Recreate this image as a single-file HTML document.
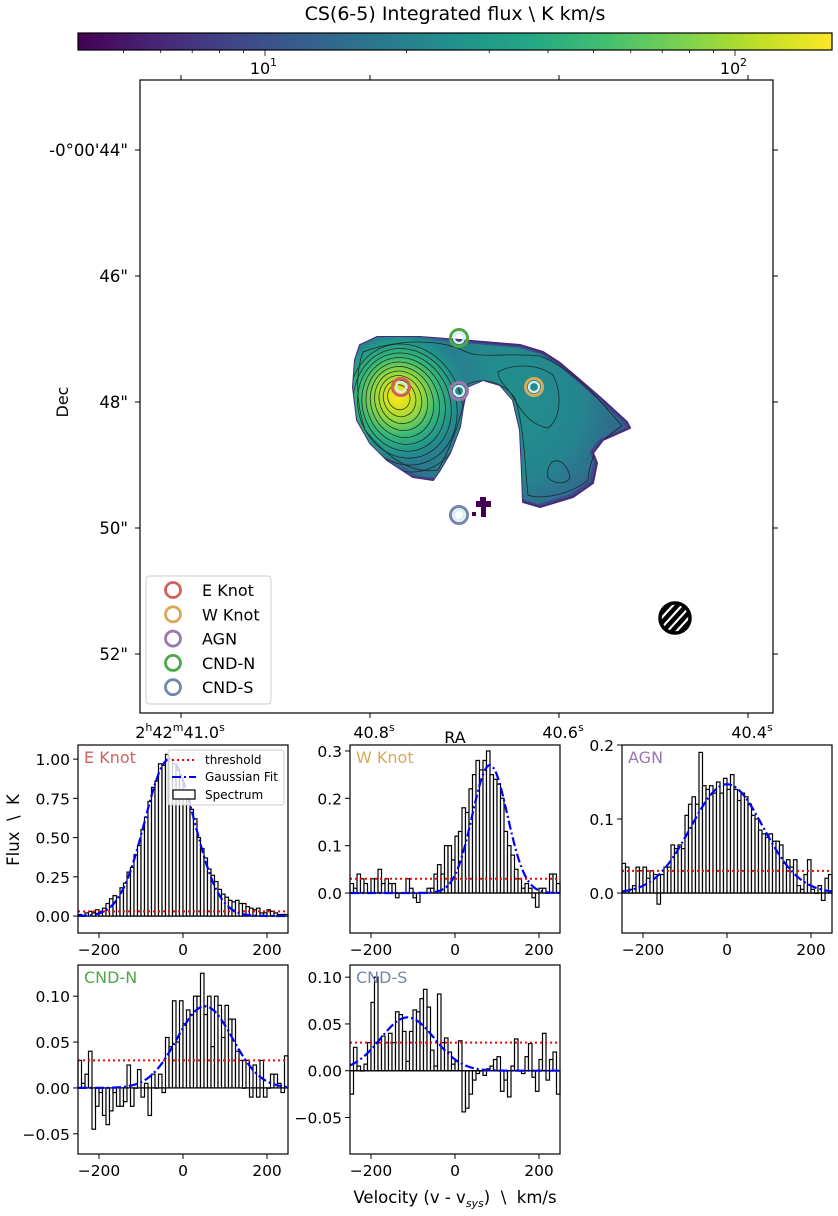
<!DOCTYPE html>
<html><head><meta charset="utf-8"><style>
html,body{margin:0;padding:0;background:#fff;}
svg{display:block;font-family:"DejaVu Sans","Liberation Sans",sans-serif;}
text{white-space:pre;}
</style></head><body>
<svg id="fig" width="838" height="1216" viewBox="0 0 838 1216" xmlns="http://www.w3.org/2000/svg">
<defs>
<linearGradient id="viridis" x1="0" x2="1" y1="0" y2="0">
<stop offset="0" stop-color="#440154"/><stop offset="0.1" stop-color="#482475"/><stop offset="0.2" stop-color="#414487"/><stop offset="0.3" stop-color="#355f8d"/><stop offset="0.4" stop-color="#2a788e"/><stop offset="0.5" stop-color="#21918c"/><stop offset="0.6" stop-color="#22a884"/><stop offset="0.7" stop-color="#44bf70"/><stop offset="0.8" stop-color="#7ad151"/><stop offset="0.9" stop-color="#bddf26"/><stop offset="1" stop-color="#fde725"/>
</linearGradient>
<radialGradient id="eknot" cx="398" cy="396" r="95" gradientUnits="userSpaceOnUse">
<stop offset="0" stop-color="#fde725"/><stop offset="0.12" stop-color="#d8e219"/><stop offset="0.26" stop-color="#8fd744"/><stop offset="0.42" stop-color="#35b779"/><stop offset="0.6" stop-color="#21918c"/><stop offset="0.75" stop-color="#2a788e" stop-opacity="0.6"/><stop offset="1" stop-color="#2a788e" stop-opacity="0"/>
</radialGradient>
<radialGradient id="warm" cx="500" cy="400" r="140" gradientUnits="userSpaceOnUse">
<stop offset="0" stop-color="#21918c"/><stop offset="0.6" stop-color="#25858e"/><stop offset="1" stop-color="#355f8d"/>
</radialGradient>
<clipPath id="blobclip"><path d="M360,345 L377,337 L420,337 L460,340 L520,345 L543,352 L560,363 L580,380 L603,400 L627,422 L630,428 L603,440 L593,453 L597,463 L593,483 L573,497 L540,507 L523,502 L522,473 L520,430 L513,400 L500,385 L483,380 L467,387 L463,407 L460,427 L450,453 L440,470 L433,480 L413,477 L387,460 L370,443 L357,420 L353,387 L355,360 Z"/></clipPath>
<clipPath id="beamclip"><circle cx="675" cy="618" r="15"/></clipPath>
</defs>
<g id="colorbar"></g>
<g id="map"></g>
<g id="spectra"></g>
</svg>
<script>
// ---------- data ----------
const cbMajorTicks = [10, 100];
const cbMajorLabels = ["10", "10"];
const cbMajorExp = ["1", "2"];
const cbMinorTicks = [5,6,7,8,9,20,30,40,50,60,70,80,90];
const raTickLabels = [["2","h","42","m","41.0","s"],["40.8","s"],["40.6","s"],["40.4","s"]];
const decTickLabels = ["-0°00'44\"","46\"","48\"","50\"","52\""];
const regionNames = ["E Knot","W Knot","AGN","CND-N","CND-S"];
const regionColors = ["#d1605e","#d9a85b","#9b77ac","#4ea84a","#7586ad"];
const velocityTicks = [-200, 0, 200];
const nBins = 60;
const velMin = -250, velMax = 250;
const specEKnot = [0.01,0.0,0.02,0.03,0.02,0.04,0.03,0.05,0.08,0.11,0.13,0.12,0.18,0.21,0.28,0.31,0.39,0.45,0.55,0.63,0.73,0.82,0.86,0.97,0.96,1.03,1.0,0.97,0.93,0.88,0.80,0.74,0.68,0.62,0.50,0.43,0.37,0.30,0.26,0.22,0.17,0.14,0.12,0.10,0.09,0.10,0.08,0.08,0.06,0.05,0.04,0.05,0.02,0.02,0.04,0.03,0.02,0.01,0.01,0.01];
const specWKnot = [0.02,0.01,0.04,0.03,0.02,0.0,0.03,0.03,0.05,0.02,0.03,0.02,0.02,-0.01,0.0,0.0,0.03,0.01,-0.01,-0.02,0.0,0.0,0.01,0.01,0.04,0.06,0.04,0.10,0.10,0.07,0.12,0.13,0.18,0.17,0.22,0.25,0.28,0.26,0.28,0.30,0.25,0.24,0.23,0.20,0.13,0.10,0.08,0.05,0.03,0.01,0.02,0.01,-0.01,-0.03,0.01,0.01,0.0,0.04,0.04,0.02];
const specAGN = [0.04,0.035,0.005,0.01,0.035,0.03,0.035,0.02,0.03,0.025,-0.015,0.025,0.035,0.035,0.065,0.06,0.065,0.06,0.105,0.12,0.13,0.12,0.19,0.145,0.14,0.145,0.135,0.15,0.135,0.155,0.14,0.16,0.14,0.125,0.135,0.13,0.12,0.105,0.1,0.085,0.08,0.075,0.08,0.07,0.07,0.065,0.04,0.045,0.035,0.045,0.01,0.005,0.025,0.045,0.005,0.0,0.01,-0.01,0.02,0.025];
const specCNDN = [0.03,0.005,0.015,0.04,-0.045,-0.02,-0.005,-0.03,-0.04,-0.025,-0.005,-0.02,-0.02,-0.015,0.025,-0.02,0.0,0.02,-0.01,0.005,-0.03,0.015,0.0,0.015,-0.005,0.055,0.045,0.095,0.05,0.095,0.07,0.085,0.08,0.1,0.1,0.125,0.08,0.1,0.045,0.1,0.09,0.055,0.09,0.075,0.075,0.04,0.03,0.0,0.03,-0.01,0.025,-0.01,0.03,-0.01,0.0,0.015,0.015,0.005,-0.005,0.035];
const specCNDS = [-0.025,0.025,0.005,0.0,0.007,0.03,0.073,0.1,0.03,0.037,0.03,0.04,0.03,0.063,0.06,0.042,0.01,0.042,0.065,0.063,0.077,0.087,0.068,0.022,0.005,0.082,0.03,0.035,0.02,0.007,0.01,0.032,-0.044,-0.04,-0.025,-0.01,-0.003,0.0,-0.005,0.002,0.005,0.012,0.015,-0.022,-0.01,-0.028,0.005,0.034,0.0,-0.003,0.015,0.029,-0.007,-0.022,0.012,0.04,-0.01,0.012,0.02,-0.025];
const fitAmp = [1.0, 0.27, 0.147, 0.089, 0.057];
const fitCenter = [-32, 83, 0, 52, -113];
const fitSigma = [59, 42, 86, 66, 64];
const threshold = [0.03, 0.03, 0.03, 0.03, 0.03];
const eknotYTicks = [0,0.25,0.5,0.75,1.0];
const wknotYTicks = [0,0.1,0.2,0.3];
const agnYTicks = [0,0.1,0.2];
const cndnYTicks = [-0.05,0,0.05,0.10];
const cndsYTicks = [-0.05,0,0.05,0.10];

const NS = "http://www.w3.org/2000/svg";
function mk(tag, attrs, parent){const e=document.createElementNS(NS,tag);for(const k in attrs)e.setAttribute(k,attrs[k]);if(parent)parent.appendChild(e);return e;}
const fmtMinus = s => s.replace('-', '\u2212');

// ---------- colorbar ----------
const cb = document.getElementById('colorbar');
const cbX0=78, cbX1=832, cbY0=33, cbY1=50;
const cbX10=265, cbDec=470;
const cbScale = v => cbX10 + cbDec*Math.log10(v/10);
let t = mk('text',{x:455,y:20,'font-size':19,'text-anchor':'middle'},cb);
t.textContent="CS(6-5) Integrated flux \\ K km/s";


let r = mk('rect',{x:cbX0,y:cbY0,width:cbX1-cbX0,height:cbY1-cbY0,fill:'url(#viridis)',stroke:'#000','stroke-width':1.2},cb);


cbMinorTicks.forEach(v=>{const x=cbScale(v);if(x>cbX0&&x<cbX1)mk('line',{x1:x,x2:x,y1:cbY1,y2:cbY1+3,stroke:'#000','stroke-width':0.8},cb);});
cbMajorTicks.forEach((v,i)=>{const x=cbScale(v);
 mk('line',{x1:x,x2:x,y1:cbY1,y2:cbY1+6,stroke:'#000','stroke-width':0.8},cb);
 const tt=mk('text',{x:x-5,y:74,'font-size':16,'text-anchor':'middle'},cb);
 tt.textContent=cbMajorLabels[i];
 
 
 const ex=mk('text',{x:x+5,y:66,'font-size':11,'text-anchor':'start'},cb);ex.textContent=cbMajorExp[i];
});

// ---------- map ----------
const mp = document.getElementById('map');
const mX0=140,mX1=773,mY0=80,mY1=713;
const raTicks=[181,370,559,748], decTicks=[150,276,402,528,654];
const outline="M360,345 L377,337 L420,337 L460,340 L520,345 L543,352 L560,363 L580,380 L603,400 L627,422 L630,428 L603,440 L593,453 L597,463 L593,483 L573,497 L540,507 L523,502 L522,473 L520,430 L513,400 L500,385 L483,380 L467,387 L463,407 L460,427 L450,453 L440,470 L433,480 L413,477 L387,460 L370,443 L357,420 L353,387 L355,360 Z";
let edge = mk('path',{d:outline,fill:'#3e4a89',stroke:'#472c7a','stroke-width':2,'stroke-linejoin':'round'},mp);


const inner = mk('g',{'clip-path':'url(#blobclip)'},mp);
let body = mk('path',{d:outline,fill:'url(#warm)',transform:'translate(492,420) scale(0.965) translate(-492,-420)'},inner);


let lobe = mk('circle',{cx:398,cy:396,r:95,fill:'url(#eknot)'},inner);


mk('path',{d:"M480,497 h6 v4 h5 v6 h-5 v10 h-5 v-10 h-5 v-6 h4 z",fill:'#440154'},mp);
mk('rect',{x:472,y:512,width:4,height:4,fill:'#440154'},mp);
// contours
const cg = mk('g',{fill:'none',stroke:'#1a1a1a','stroke-width':0.8,opacity:0.85,'clip-path':'url(#blobclip)'},mp);


for(let k=1;k<=10;k++){mk('ellipse',{cx:398+k*0.8,cy:396+k*1.2,rx:6+k*5.0,ry:7+k*5.8,transform:`rotate(-20 ${398+k*0.8} ${396+k*1.2})`},cg);}
mk('path',{d:"M363,352 C400,338 440,340 462,350 C480,360 500,352 540,356 C575,370 600,400 622,426 C600,440 590,455 588,480 C570,495 540,500 528,495 C525,470 525,430 515,398 C505,384 485,376 468,384 C463,410 455,440 438,470 C410,475 385,455 365,430 C355,400 356,370 363,352 Z"},cg);
mk('path',{d:"M498,372 C510,365 535,362 553,375 C563,395 560,420 548,428 C530,425 520,410 512,395 C505,385 498,380 498,372 Z"},cg);
mk('path',{d:"M552,462 C560,458 568,465 570,478 C565,485 555,484 548,478 C547,470 549,465 552,462 Z"},cg);
// region markers
const markerPos=[[401,387],[534,387],[459,391],[459,338],[459,515]];
regionNames.forEach((n,i)=>{
 const [cx,cy]=markerPos[i];
 const c=mk('circle',{cx:cx,cy:cy,r:8.5,fill:'none',stroke:regionColors[i],'stroke-width':3},mp);
 
 
 mk('circle',{cx:cx,cy:cy,r:5,fill:'none',stroke:'#d9ecef','stroke-width':2.2},mp);
});
// beam
const bm=mk('g',{},mp);


mk('circle',{cx:675,cy:618,r:15,fill:'#fff'},bm);
const hg=mk('g',{'clip-path':'url(#beamclip)',stroke:'#000','stroke-width':4.5},bm);
for(let k=-3;k<=3;k++){mk('line',{x1:655+k*9,y1:640,x2:695+k*9,y2:596},hg);}
mk('circle',{cx:675,cy:618,r:15,fill:'none',stroke:'#000','stroke-width':3.5},bm);
// frame + ticks
let fr=mk('rect',{x:mX0,y:mY0,width:mX1-mX0,height:mY1-mY0,fill:'none',stroke:'#000','stroke-width':1.2},mp);


raTicks.forEach((x,i)=>{
 mk('line',{x1:x,x2:x,y1:mY1,y2:mY1+5,stroke:'#000','stroke-width':1},mp);
 mk('line',{x1:x,x2:x,y1:mY0,y2:mY0-5,stroke:'#000','stroke-width':1},mp);
 const L=raTickLabels[i];
 const tt=mk('text',{x:(i==0?180:x+4),y:738,'font-size':16,'text-anchor':'middle'},mp);
 
 
 for(let j=0;j<L.length;j+=2){
  const a=mk('tspan',j>0?{dy:7}:{},tt);a.textContent=L[j];
  const b=mk('tspan',{'font-size':11,dy:-7},tt);b.textContent=L[j+1];
 }
});
decTicks.forEach((y,i)=>{
 mk('line',{x1:mX0,x2:mX0-5,y1:y,y2:y,stroke:'#000','stroke-width':1},mp);
 mk('line',{x1:mX1,x2:mX1+5,y1:y,y2:y,stroke:'#000','stroke-width':1},mp);
 const tt=mk('text',{x:128,y:y+6,'font-size':16.5,'text-anchor':'end'},mp);tt.textContent=decTickLabels[i];
 
 
});
t=mk('text',{x:455,y:743,'font-size':16,'text-anchor':'middle'},mp);t.textContent='RA';


t=mk('text',{x:0,y:0,'font-size':16,'text-anchor':'middle',transform:'translate(68,402) rotate(-90)'},mp);t.textContent='Dec';


// map legend
const lg=mk('g',{},mp);


mk('rect',{x:146,y:576,width:125,height:128,rx:3,fill:'#fff',stroke:'#ccc','stroke-width':1},lg);
regionNames.forEach((n,i)=>{
 const y=590+i*24.3;
 mk('circle',{cx:173,cy:y,r:7.5,fill:'none',stroke:regionColors[i],'stroke-width':2.8},lg);
 const tt=mk('text',{x:202,y:y+6,'font-size':16},lg);tt.textContent=n;
 
 
});

// ---------- spectra ----------
const sp=document.getElementById('spectra');
const panels=[
 {x:78,y:745,h:188,ymin:-0.108,ymax:1.09,ticks:eknotYTicks,dec:2,data:specEKnot},
 {x:350,y:745,h:188,ymin:-0.0845,ymax:0.3126,ticks:wknotYTicks,dec:1,data:specWKnot},
 {x:622,y:745,h:188,ymin:-0.054,ymax:0.2,ticks:agnYTicks,dec:1,data:specAGN},
 {x:78,y:965,h:189,ymin:-0.072,ymax:0.134,ticks:cndnYTicks,dec:2,data:specCNDN},
 {x:350,y:965,h:189,ymin:-0.089,ymax:0.113,ticks:cndsYTicks,dec:2,data:specCNDS}
];
const W=210;
panels.forEach((p,pi)=>{
 const g=mk('g',{},sp);
 
 
 const xs=v=>p.x+(v-velMin)/(velMax-velMin)*W;
 const ys=v=>p.y+(p.ymax-v)/(p.ymax-p.ymin)*p.h;
 const bw=(velMax-velMin)/nBins;
 const bars=mk('g',{},g);
 
 
 p.data.forEach((v,i)=>{
  const x0=xs(velMin+i*bw), x1=xs(velMin+(i+1)*bw);
  const ya=ys(Math.max(v,0)), yb=ys(Math.min(v,0));
  const b=mk('rect',{x:x0,y:ya,width:x1-x0,height:Math.max(yb-ya,0.3),fill:'#fff',stroke:'#000','stroke-width':1.2},bars);
  
  
 });
 mk('line',{x1:p.x,x2:p.x+W,y1:ys(0),y2:ys(0),stroke:'#000','stroke-width':1.2},g);
 const th=mk('line',{x1:p.x,x2:p.x+W,y1:ys(threshold[pi]),y2:ys(threshold[pi]),stroke:'#ff0000','stroke-width':2,'stroke-dasharray':'2 3'},g);
 
 
 let d='';
 for(let v=velMin;v<=velMax;v+=2){const val=fitAmp[pi]*Math.exp(-Math.pow(v-fitCenter[pi],2)/(2*fitSigma[pi]*fitSigma[pi]));d+=(d?'L':'M')+xs(v).toFixed(1)+','+ys(val).toFixed(1);}
 const gf=mk('path',{d:d,fill:'none',stroke:'#0000ff','stroke-width':2.2,'stroke-dasharray':'9 3 2 3'},g);
 
 
 mk('rect',{x:p.x,y:p.y,width:W,height:p.h,fill:'none',stroke:'#000','stroke-width':1.2},g);
 p.ticks.forEach(v=>{const y=ys(v);mk('line',{x1:p.x,x2:p.x-5,y1:y,y2:y,stroke:'#000','stroke-width':1},g);
  const tt=mk('text',{x:p.x-8,y:y+6,'font-size':15.5,'text-anchor':'end'},g);tt.textContent=fmtMinus(v.toFixed(p.dec));
  
  });
 velocityTicks.forEach(v=>{const x=xs(v);mk('line',{x1:x,x2:x,y1:p.y+p.h,y2:p.y+p.h+5,stroke:'#000','stroke-width':1},g);
  const tt=mk('text',{x:x,y:p.y+p.h+22,'font-size':15.5,'text-anchor':'middle'},g);tt.textContent=fmtMinus(String(v));
  
  });
 const lab=mk('text',{x:p.x+6,y:p.y+18,'font-size':16,fill:regionColors[pi]},g);lab.textContent=regionNames[pi];
 
 
});
// spectrum legend
const sl=mk('g',{},sp);


mk('rect',{x:168,y:750,width:116,height:55,rx:2,fill:'#fff','fill-opacity':0.8,stroke:'#ccc','stroke-width':1},sl);
mk('line',{x1:172,x2:196,y1:760,y2:760,stroke:'#ff0000','stroke-width':2,'stroke-dasharray':'2 3'},sl);
mk('line',{x1:172,x2:196,y1:777,y2:777,stroke:'#0000ff','stroke-width':2,'stroke-dasharray':'9 3 2 3'},sl);
mk('rect',{x:173,y:790,width:22,height:9,fill:'#fff',stroke:'#000','stroke-width':1.2},sl);
[["threshold",764],["Gaussian Fit",781],["Spectrum",799]].forEach(([s,y])=>{const tt=mk('text',{x:205,y:y,'font-size':12},sl);tt.textContent=s;
 
 });
// axis titles
t=mk('text',{x:455,y:1203,'font-size':16.5,'text-anchor':'middle'},sp);


t.innerHTML='Velocity (v - v<tspan font-size="11" dy="4" font-style="italic">sys</tspan><tspan dy="-4">)  \\  km/s</tspan>';
t=mk('text',{x:0,y:0,'font-size':16.5,'text-anchor':'middle',transform:'translate(19,830) rotate(-90)'},sp);t.textContent='Flux  \\  K';


</script>
</body></html>
